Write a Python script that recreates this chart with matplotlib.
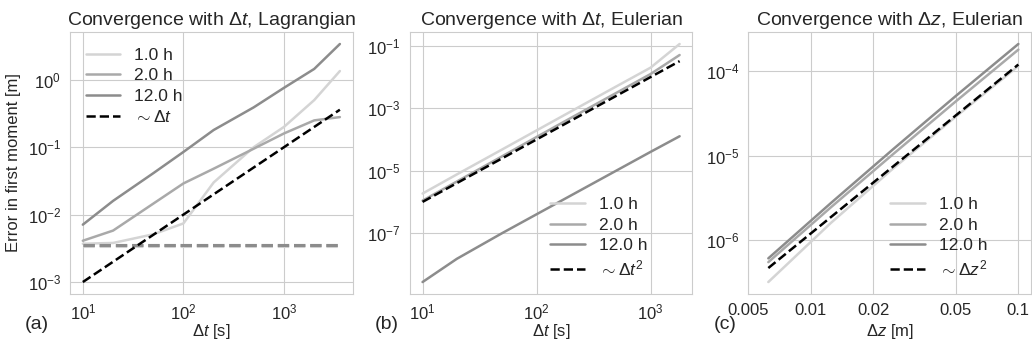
import numpy as np
import matplotlib
matplotlib.use("Agg")
import matplotlib.pyplot as plt
import seaborn as sns

sns.set_style("whitegrid")
plt.rcParams['font.family'] = ['Liberation Sans', 'DejaVu Sans']
plt.rcParams['mathtext.fontset'] = 'custom'
plt.rcParams['mathtext.rm'] = 'Liberation Sans'
plt.rcParams['mathtext.it'] = 'Liberation Sans:italic'

labels = ["1.0 h", "2.0 h", "12.0 h"]
colors = ["#d4d4d4", "#a9a9a9", "#8c8c8c"]

# (a) Lagrangian, error vs dt
dt_lag = [10, 20, 50, 100, 200, 500, 1000, 2000, 3600]
err_lag = {
    "1.0 h": [0.0037, 0.0038, 0.0051, 0.0074, 0.03, 0.1, 0.2, 0.5, 1.35],
    "2.0 h": [0.0041, 0.0058, 0.0145, 0.029, 0.048, 0.095, 0.16, 0.25, 0.28],
    "12.0 h": [0.0071, 0.016, 0.041, 0.085, 0.18, 0.39, 0.76, 1.45, 3.4],
}
floor_lag = [0.00345, 0.0035, 0.00355]
ref_lag = [1e-4 * d for d in dt_lag]

# (b) Eulerian, error vs dt
dt_eul = [10, 20, 50, 100, 200, 500, 1000, 1800]
err_eul = {
    "1.0 h": [1.85e-6, 7.6e-6, 4.8e-5, 1.95e-4, 7.9e-4, 5.0e-3, 2.0e-2, 0.115],
    "2.0 h": [1.1e-6, 4.5e-6, 2.9e-5, 1.2e-4, 4.9e-4, 3.1e-3, 1.25e-2, 0.051],
    "12.0 h": [2.7e-9, 1.5e-8, 1.0e-7, 4.0e-7, 1.6e-6, 1.0e-5, 4.0e-5, 1.27e-4],
}
ref_eul = [1e-8 * d ** 2 for d in dt_eul]

# (c) Eulerian, error vs dz
dz = [0.00625, 0.0125, 0.025, 0.05, 0.1]
err_dz = {
    "1.0 h": [3.2e-7, 1.6e-6, 7.1e-6, 2.9e-5, 1.15e-4],
    "2.0 h": [5.5e-7, 2.45e-6, 1.05e-5, 4.4e-5, 1.8e-4],
    "12.0 h": [6.1e-7, 2.75e-6, 1.2e-5, 5.1e-5, 2.1e-4],
}
ref_dz = [0.012 * d ** 2 for d in dz]

fig = plt.figure(figsize=(10.32, 3.45), dpi=100)
ax1 = fig.add_axes([0.0678, 0.148, 0.274, 0.759])
ax2 = fig.add_axes([0.397, 0.148, 0.274, 0.759])
ax3 = fig.add_axes([0.725, 0.148, 0.274, 0.759])

for lab, c in zip(labels, colors):
    ax1.plot(dt_lag, err_lag[lab], color=c, lw=1.8, label=lab)
for f, c in zip(floor_lag, colors):
    ax1.plot([dt_lag[0], dt_lag[-1]], [f, f], color=c, lw=2.2, ls="--")
ax1.plot(dt_lag, ref_lag, color="k", lw=1.8, ls="--", label=r"$\sim \Delta t$")

for lab, c in zip(labels, colors):
    ax2.plot(dt_eul, err_eul[lab], color=c, lw=1.8, label=lab)
ax2.plot(dt_eul, ref_eul, color="k", lw=1.8, ls="--", label=r"$\sim \Delta t^2$")

for lab, c in zip(labels, colors):
    ax3.plot(dz, err_dz[lab], color=c, lw=1.8, label=lab)
ax3.plot(dz, ref_dz, color="k", lw=1.8, ls="--", label=r"$\sim \Delta z^2$")

for ax in (ax1, ax2, ax3):
    ax.set_xscale("log")
    ax.set_yscale("log")
    ax.tick_params(labelsize=12)
    ax.tick_params(axis="x", pad=3)
    ax.tick_params(axis="y", pad=3)

ax1.set_title(r"Convergence with $\Delta t$, Lagrangian", fontsize=14, pad=5)
ax2.set_title(r"Convergence with $\Delta t$, Eulerian", fontsize=14, pad=5)
ax3.set_title(r"Convergence with $\Delta z$, Eulerian", fontsize=14, pad=5)
ax1.set_xlabel(r"$\Delta t$ [s]", fontsize=12)
ax2.set_xlabel(r"$\Delta t$ [s]", fontsize=12)
ax3.set_xlabel(r"$\Delta z$ [m]", fontsize=12)
for ax in (ax1, ax2, ax3):
    ax.xaxis.set_label_coords(0.5, -0.108)
ax1.set_ylabel("Error in first moment [m]", fontsize=12, labelpad=5)

ax3.set_xticks([0.005, 0.01, 0.02, 0.05, 0.1])
ax3.set_xticklabels(["0.005", "0.01", "0.02", "0.05", "0.1"])
ax3.xaxis.set_minor_locator(matplotlib.ticker.NullLocator())
ax3.set_xlim(0.005, 0.115)

leg_kw = dict(frameon=False, fontsize=12.5, handlelength=2.0, labelspacing=0.3,
              handletextpad=0.8)
ax1.legend(loc="upper left", **leg_kw)
ax2.legend(loc="lower right", bbox_to_anchor=(0.895, 0.0), **leg_kw)
ax3.legend(loc="lower right", bbox_to_anchor=(0.9, 0.0), **leg_kw)

fig.text(0.024, 0.045, "(a)", fontsize=14)
fig.text(0.363, 0.045, "(b)", fontsize=14)
fig.text(0.692, 0.045, "(c)", fontsize=14)

fig.savefig("out.png", dpi=100)
